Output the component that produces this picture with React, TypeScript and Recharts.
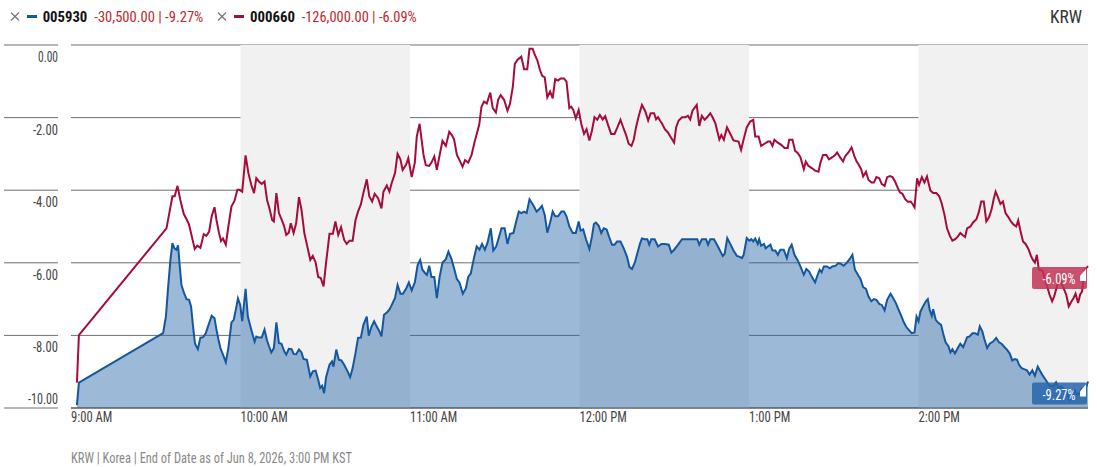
import React from "react";
import {
  ComposedChart,
  Area,
  Line,
  XAxis,
  YAxis,
  CartesianGrid,
  ReferenceArea,
} from "recharts";

// minutes after 9:00 AM KST, % change
const redTimes = [
  2.1, 2.8, 33.8, 35.9, 36.7, 37.7, 38.7, 39.9, 40.9, 41.8, 42.9, 43.8, 44.7, 45.8, 47.0, 47.9, 48.9, 49.8,
  50.8, 51.5, 52.4, 53.1, 53.8, 54.8, 55.7, 56.8, 57.9, 58.9, 59.7, 60.6, 61.8, 62.8, 63.8, 64.8, 65.6, 66.5,
  67.5, 68.5, 69.4, 70.3, 71.2, 71.8, 72.7, 73.6, 74.5, 75.4, 76.2, 77.1, 77.8, 78.8, 79.7, 80.7, 81.6, 82.6,
  83.5, 84.7, 85.6, 86.6, 87.5, 88.4, 89.4, 90.3, 91.5, 92.7, 93.6, 94.6, 95.6, 96.7, 97.6, 98.6, 99.7, 100.7,
  101.6, 102.6, 103.5, 104.7, 105.6, 106.6, 107.5, 108.7, 109.9, 110.6, 111.8, 112.7, 113.5, 114.7, 115.6,
  116.6, 117.4, 118.6, 119.4, 120.6, 121.7, 122.4, 123.4, 124.1, 124.8, 125.6, 126.8, 127.6, 128.6, 129.5,
  130.5, 131.5, 132.7, 133.9, 134.8, 135.6, 136.6, 137.4, 138.6, 139.5, 140.6, 141.8, 142.9, 144.5, 145.3,
  146.2, 147.2, 148.4, 149.3, 150.4, 151.2, 152.1, 153.3, 154.5, 155.4, 156.4, 157.1, 158.0, 159.4, 160.4,
  161.5, 162.3, 163.4, 164.1, 165.1, 166.0, 166.8, 167.7, 168.6, 169.6, 170.5, 171.4, 172.4, 173.3, 174.5,
  175.4, 176.4, 177.1, 177.8, 178.7, 179.7, 180.6, 181.6, 182.5, 183.5, 184.4, 185.3, 186.3, 187.2, 188.2,
  189.1, 190.1, 191.2, 192.4, 193.3, 194.5, 195.7, 196.5, 197.4, 198.4, 199.2, 200.0, 201.0, 202.1, 203.3,
  204.3, 205.2, 206.4, 207.1, 207.8, 208.5, 209.2, 210.2, 211.3, 212.3, 213.5, 214.2, 215.1, 216.3, 217.5,
  218.4, 219.2, 220.0, 221.5, 222.4, 223.3, 224.3, 225.2, 226.3, 227.1, 228.1, 229.5, 230.2, 231.1, 232.2,
  233.4, 234.5, 236.3, 237.2, 238.1, 239.2, 240.4, 241.5, 242.2, 243.4, 244.3, 245.5, 246.7, 247.5, 248.3,
  249.0, 250.2, 251.4, 252.6, 253.7, 254.2, 255.4, 256.3, 257.3, 258.2, 259.4, 260.1, 261.0, 262.2, 263.4,
  264.6, 265.3, 266.2, 267.4, 268.3, 269.5, 270.5, 271.2, 272.2, 273.3, 274.0, 275.4, 276.3, 277.3, 278.1,
  278.7, 279.7, 280.4, 281.4, 282.3, 283.4, 284.2, 285.1, 286.1, 287.0, 288.0, 288.9, 289.9, 290.8, 291.7,
  292.7, 293.4, 294.3, 295.3, 296.2, 297.2, 297.9, 298.6, 299.5, 300.2, 301.2, 302.1, 303.0, 304.2, 305.2,
  306.3, 307.3, 308.2, 309.2, 310.1, 311.1, 312.0, 313.0, 313.9, 314.8, 315.5, 316.5, 317.2, 318.4, 319.3,
  320.5, 321.4, 322.2, 323.1, 324.0, 325.0, 325.9, 326.6, 327.3, 328.0, 329.0, 329.9, 330.8, 331.8, 332.7,
  333.7, 334.6, 335.3, 336.0, 337.0, 337.9, 338.9, 339.8, 340.5, 341.2, 341.9, 342.6, 343.3, 344.0, 345.2,
  346.4, 347.3, 348.0, 349.0, 349.7, 350.4, 351.1, 352.3, 353.2, 354.2, 354.9, 355.6, 356.5, 357.2, 357.9,
  358.9, 360,
];
const redValues = [
  -9.3, -7.99, -5.05, -4.17, -4.17, -3.88, -4.27, -4.65, -4.8, -4.95, -5.32, -5.62, -5.53, -5.59, -5.21, -5.26,
  -5.14, -4.72, -4.47, -4.82, -5.18, -5.4, -5.33, -5.5, -5.0, -4.45, -4.29, -3.99, -3.99, -4.04, -3.04, -3.53,
  -3.85, -4.08, -3.67, -3.76, -3.83, -3.76, -4.27, -4.52, -4.82, -4.86, -4.08, -4.63, -4.8, -4.98, -5.23, -5.17,
  -4.91, -5.18, -4.91, -4.19, -4.54, -5.18, -5.5, -5.92, -5.81, -5.99, -6.39, -6.42, -6.65, -5.99, -5.2, -5.2,
  -4.86, -5.23, -5.02, -5.37, -5.48, -5.39, -5.39, -4.83, -4.59, -4.39, -4.08, -3.7, -4.17, -4.31, -4.1, -4.22,
  -4.5, -4.04, -3.87, -4.04, -3.81, -3.53, -3.0, -3.15, -3.44, -3.3, -3.12, -3.64, -3.24, -2.52, -2.17, -2.61,
  -3.03, -3.31, -3.33, -3.24, -3.07, -3.44, -3.03, -2.64, -2.78, -2.39, -2.48, -2.6, -3.03, -3.15, -3.35, -3.17,
  -3.24, -3.03, -2.66, -2.2, -1.7, -1.56, -1.61, -1.31, -1.74, -1.86, -1.51, -1.38, -1.51, -1.81, -1.62, -1.15,
  -0.52, -0.41, -0.32, -0.67, -0.67, -0.1, -0.1, -0.25, -0.43, -0.69, -0.85, -0.89, -1.44, -1.28, -1.47, -0.94,
  -0.98, -0.92, -0.92, -1.01, -1.74, -1.7, -1.79, -2.02, -1.79, -2.16, -2.45, -2.32, -2.63, -2.36, -1.99, -2.06,
  -1.93, -2.05, -1.96, -2.2, -2.45, -2.45, -2.29, -2.06, -2.32, -2.48, -2.72, -2.78, -2.61, -2.27, -1.95, -1.65,
  -1.83, -2.08, -1.88, -1.88, -2.05, -1.99, -2.08, -2.16, -2.32, -2.41, -2.54, -2.69, -2.27, -2.08, -1.99, -1.99,
  -1.95, -2.05, -1.81, -1.65, -2.23, -1.95, -2.06, -1.99, -1.88, -1.99, -2.16, -2.6, -2.48, -2.61, -2.27, -2.45,
  -2.63, -2.66, -2.89, -2.6, -2.27, -2.11, -2.06, -2.52, -2.52, -2.78, -2.72, -2.66, -2.66, -2.78, -2.61, -2.69,
  -2.75, -2.84, -2.84, -2.61, -2.61, -2.91, -2.98, -3.09, -3.42, -3.21, -3.33, -3.39, -3.46, -3.49, -3.24, -3.03,
  -3.03, -3.15, -3.09, -3.03, -2.96, -3.09, -3.21, -3.07, -2.94, -2.82, -3.06, -3.21, -3.28, -3.42, -3.62, -3.49,
  -3.72, -3.79, -3.79, -3.64, -3.67, -3.83, -3.88, -3.64, -3.61, -3.64, -3.76, -3.94, -4.06, -4.1, -4.25, -4.32,
  -4.31, -4.38, -4.47, -3.67, -3.85, -3.64, -3.79, -3.62, -4.01, -4.08, -4.08, -4.16, -4.36, -4.68, -5.05, -5.26,
  -5.39, -5.35, -5.28, -5.18, -5.23, -5.29, -5.05, -5.0, -4.89, -4.8, -4.59, -4.31, -4.31, -4.86, -4.74, -4.52,
  -4.25, -4.04, -4.17, -4.38, -4.31, -4.63, -4.74, -4.86, -4.95, -5.0, -4.83, -5.09, -5.41, -5.48, -5.62, -5.81,
  -5.92, -5.99, -5.78, -6.19, -6.19, -6.24, -6.56, -6.88, -7.06, -6.93, -6.65, -6.47, -6.51, -6.65, -6.88, -7.2,
  -7.06, -6.97, -6.85, -7.11, -6.88, -6.79, -6.19, -6.09,
];

const blueTimes = [
  2.1, 2.8, 32.6, 33.6, 34.4, 35.2, 35.9, 36.6, 37.3, 37.9, 38.5, 39.1, 40.0, 40.9, 41.8, 42.5, 43.2, 43.9, 44.9,
  45.8, 46.7, 47.7, 48.6, 49.8, 50.8, 51.5, 52.2, 52.9, 53.8, 54.8, 55.7, 56.8, 57.6, 58.3, 59.1, 59.9, 60.6,
  61.8, 62.6, 63.8, 65.0, 65.6, 66.5, 67.5, 68.5, 69.4, 70.1, 70.9, 71.8, 72.7, 73.6, 74.5, 75.5, 76.2, 77.1,
  78.1, 78.8, 79.7, 80.7, 81.6, 82.3, 83.5, 84.7, 85.6, 86.6, 87.5, 88.2, 88.9, 89.6, 90.3, 91.5, 92.4, 92.9,
  93.9, 94.8, 95.7, 96.7, 97.9, 98.8, 99.7, 100.7, 101.6, 102.6, 103.5, 104.7, 105.4, 106.3, 107.3, 108.2,
  109.2, 109.9, 110.8, 111.8, 112.7, 113.3, 114.7, 115.6, 116.6, 117.5, 118.7, 119.6, 120.6, 121.7, 122.7,
  123.6, 124.4, 125.3, 126.0, 126.8, 127.6, 128.6, 129.5, 130.5, 131.5, 132.7, 133.6, 134.7, 135.6, 136.6,
  137.5, 138.7, 139.8, 140.6, 141.5, 142.5, 143.6, 144.6, 145.5, 146.5, 147.4, 148.6, 149.5, 150.5, 151.5,
  152.4, 153.5, 154.5, 155.4, 156.6, 157.5, 158.5, 159.4, 160.4, 161.3, 162.3, 163.2, 163.9, 164.8, 165.8,
  166.7, 167.7, 168.6, 169.6, 170.5, 171.4, 172.4, 173.6, 174.5, 175.4, 176.4, 177.6, 178.7, 179.7, 180.4,
  181.3, 182.3, 183.5, 184.4, 185.1, 185.8, 186.8, 187.7, 188.6, 189.6, 190.5, 191.5, 192.4, 193.3, 194.5,
  195.7, 196.8, 197.7, 198.6, 199.6, 200.5, 201.4, 202.1, 203.1, 204.0, 204.7, 205.4, 206.6, 207.8, 209.0,
  210.2, 211.6, 212.5, 213.5, 214.9, 216.3, 221.7, 222.4, 223.3, 224.8, 225.5, 226.3, 227.6, 229.0, 230.7,
  231.4, 232.3, 233.5, 234.5, 235.7, 236.5, 237.5, 238.1, 239.2, 240.1, 240.8, 241.5, 242.2, 243.1, 243.6,
  244.3, 245.3, 245.9, 246.7, 247.6, 248.3, 249.3, 250.2, 251.1, 252.3, 253.4, 254.2, 255.1, 256.1, 257.3,
  258.2, 259.4, 260.3, 261.3, 262.2, 263.4, 264.3, 265.0, 265.7, 266.5, 267.6, 268.6, 269.5, 270.7, 271.6,
  272.6, 273.5, 274.5, 275.6, 276.6, 277.5, 278.7, 279.5, 280.4, 281.4, 282.3, 283.3, 284.2, 285.1, 286.1,
  287.0, 288.0, 288.9, 290.1, 291.0, 292.0, 292.9, 293.9, 294.8, 295.7, 296.7, 297.6, 298.6, 299.3, 300.0,
  300.7, 301.6, 302.6, 303.3, 304.0, 304.7, 305.2, 306.1, 307.1, 308.0, 308.7, 309.6, 310.6, 311.3, 312.0,
  312.9, 313.9, 314.8, 315.8, 316.5, 317.2, 318.1, 319.1, 320.0, 321.0, 321.7, 322.6, 323.3, 324.3, 325.2,
  326.4, 327.5, 328.5, 329.4, 330.4, 331.3, 332.3, 333.2, 334.1, 334.9, 335.6, 336.5, 337.4, 338.4, 339.3,
  340.3, 341.2, 342.2, 343.1, 344.0, 345.0, 345.9, 346.9, 347.8, 348.7, 349.7, 350.6, 351.6, 352.5, 353.5,
  354.4, 355.3, 356.3, 357.0, 357.7, 358.6, 360,
];
const blueValues = [
  -9.92, -9.3, -7.94, -7.48, -6.65, -5.92, -5.46, -5.6, -5.64, -5.52, -6.1, -6.61, -6.83, -7.0, -7.02, -7.2,
  -7.75, -8.23, -8.38, -8.06, -8.05, -7.94, -7.73, -7.46, -7.53, -7.84, -8.12, -8.35, -8.53, -8.74, -8.35, -7.64,
  -7.57, -7.31, -6.98, -7.16, -7.61, -6.72, -7.48, -7.84, -8.17, -8.03, -8.06, -8.06, -7.84, -8.14, -8.3, -8.47,
  -8.35, -7.64, -8.21, -8.23, -8.44, -8.53, -8.37, -8.38, -8.51, -8.52, -8.39, -8.47, -8.65, -8.67, -9.13, -8.99,
  -8.97, -9.22, -9.45, -9.39, -9.59, -9.15, -8.81, -8.72, -8.86, -8.39, -8.67, -8.69, -8.81, -8.99, -9.15, -8.9,
  -8.49, -8.07, -8.06, -7.71, -7.48, -8.01, -7.77, -7.61, -7.75, -7.89, -8.03, -7.43, -7.37, -7.29, -7.2, -6.97,
  -6.61, -6.85, -6.85, -6.7, -6.54, -6.76, -6.54, -6.06, -5.92, -6.19, -6.28, -6.33, -6.08, -6.39, -6.39, -6.97,
  -6.38, -5.99, -5.9, -5.69, -5.9, -6.15, -6.45, -6.54, -6.85, -6.7, -6.39, -6.3, -5.92, -5.55, -5.64, -5.48,
  -5.64, -5.46, -5.05, -5.66, -5.55, -5.29, -5.05, -5.05, -5.48, -5.2, -5.18, -4.89, -4.59, -4.63, -4.59, -4.63,
  -4.25, -4.36, -4.45, -4.59, -4.52, -4.43, -4.68, -5.17, -4.89, -4.59, -4.72, -4.72, -4.59, -4.59, -4.72, -5.0,
  -5.18, -5.18, -4.86, -5.11, -5.08, -5.35, -5.62, -5.28, -4.93, -4.89, -4.98, -5.18, -5.05, -5.08, -5.29, -5.5,
  -5.5, -5.41, -5.41, -5.61, -5.83, -6.12, -6.17, -5.99, -5.73, -5.48, -5.33, -5.35, -5.35, -5.5, -5.35, -5.35,
  -5.55, -5.48, -5.48, -5.5, -5.72, -5.64, -5.5, -5.35, -5.35, -5.5, -5.35, -5.35, -5.5, -5.35, -5.35, -5.55,
  -5.81, -5.75, -5.32, -5.5, -5.66, -5.81, -5.83, -5.87, -5.78, -5.32, -5.39, -5.35, -5.41, -5.33, -5.48, -5.35,
  -5.53, -5.48, -5.6, -5.55, -5.5, -5.66, -5.66, -5.78, -5.64, -5.64, -5.87, -5.62, -5.5, -5.78, -5.94, -6.1,
  -6.33, -6.17, -6.24, -6.38, -6.54, -6.33, -6.19, -6.26, -6.1, -6.1, -6.15, -6.1, -6.08, -6.01, -6.03, -6.08,
  -6.01, -5.9, -5.78, -6.19, -6.35, -6.45, -6.67, -6.72, -6.93, -7.06, -7.0, -7.02, -7.13, -7.16, -7.31, -7.02,
  -6.85, -6.97, -7.11, -7.28, -7.46, -7.64, -7.77, -7.86, -7.94, -7.92, -7.48, -7.61, -7.34, -7.2, -7.06, -7.0,
  -7.31, -7.46, -7.28, -7.57, -7.66, -7.71, -7.94, -8.19, -8.3, -8.47, -8.38, -8.5, -8.35, -8.23, -8.32, -8.19,
  -8.05, -8.03, -7.94, -7.94, -7.98, -7.75, -7.89, -8.1, -8.35, -8.23, -8.17, -8.07, -8.19, -8.23, -8.32, -8.39,
  -8.5, -8.69, -8.65, -8.67, -8.81, -8.9, -8.93, -8.96, -9.08, -8.96, -9.11, -8.86, -8.99, -9.11, -9.22, -9.33,
  -9.4, -9.39, -9.29, -9.45, -9.4, -9.5, -9.54, -9.77, -9.66, -9.51, -9.63, -9.59, -9.48, -9.61, -9.27,
];

const yTicks = [0, -2, -4, -6, -8, -10];
const hourTicks = [0, 60, 120, 180, 240, 300];
const hourLabels = ["9:00 AM", "10:00 AM", "11:00 AM", "12:00 PM", "1:00 PM", "2:00 PM"];
const shadedHours = [
  [60, 120],
  [180, 240],
  [300, 360],
];

const FONT = "'Liberation Sans Narrow', 'Roboto Condensed', Roboto, sans-serif";
const RED = "#a50b3b";
const BLUE = "#14579f";

const redData = redTimes.map((t, i) => ({ t, v: redValues[i] }));
const blueData = blueTimes.map((t, i) => ({ t, v: blueValues[i] }));

function Txt({ x, y, w, size = 14, fill = "#444", weight, anchor = "start", children }: any) {
  return (
    <text
      x={x}
      y={y}
      fontSize={size}
      fontFamily={FONT}
      fill={fill}
      fontWeight={weight}
      textAnchor={anchor}
      textLength={w}
      lengthAdjust="spacingAndGlyphs"
    >
      {children}
    </text>
  );
}

function YTick({ y, payload }: any) {
  const label = Number(payload.value).toFixed(2);
  const bottom = payload.value === -10;
  return (
    <g>
      <line x1={4} x2={58} y1={y} y2={y} stroke="#6f6f6f" strokeWidth={1} />
      <Txt x={58} y={bottom ? y - 4 : y + 17} w={label.length * 5} anchor="end">
        {label}
      </Txt>
    </g>
  );
}

function XTick({ x, payload }: any) {
  const label = hourLabels[hourTicks.indexOf(payload.value)] ?? "";
  return (
    <Txt x={x} y={422} w={label.length * 5.9}>
      {label}
    </Txt>
  );
}

function endTag(count: number, text: string, fill: string) {
  return (props: any) => {
    const { cx, cy, index } = props;
    if (index !== count - 1) return <g key={`d${index}`} />;
    return (
      <g key="tag">
        <rect x={cx - 56} y={cy + 1} width={55} height={22} rx={2} fill={fill} fillOpacity={0.85} />
        <Txt x={cx - 29} y={cy + 18} w={33} fill="#fff" anchor="middle">
          {text}
        </Txt>
        <polygon
          points={`${cx - 2},${cy + 3} ${cx - 2},${cy + 15} ${cx - 8},${cy + 15} ${cx - 8},${cy + 10}`}
          fill="#fff"
        />
      </g>
    );
  };
}

export default function App() {
  return (
    <div style={{ position: "absolute", left: 0, top: 0, width: 1097, height: 467, background: "#fff" }}>
      <ComposedChart width={1097} height={467} margin={{ top: 45, right: 9, bottom: 0, left: 0 }}>
        {shadedHours.map(([a, b]) => (
          <ReferenceArea key={a} x1={a} x2={b} y1={-10} y2={0} fill="#f1f1f1" fillOpacity={1} stroke="none" />
        ))}
        <CartesianGrid vertical={false} stroke="#6f6f6f" strokeOpacity={1} />
        <XAxis
          dataKey="t"
          type="number"
          domain={[0, 360]}
          ticks={hourTicks}
          height={59}
          tick={<XTick />}
          tickLine={false}
          axisLine={{ stroke: "#555" }}
        />
        <YAxis
          type="number"
          domain={[-10, 0]}
          ticks={yTicks}
          width={71}
          tick={<YTick />}
          tickLine={false}
          axisLine={false}
        />
        <Area
          data={blueData}
          dataKey="v"
          type="linear"
          baseValue={-10}
          stroke={BLUE}
          strokeWidth={2}
          fill="#2363a8"
          fillOpacity={0.45}
          isAnimationActive={false}
          activeDot={false}
          dot={endTag(blueData.length, "-9.27%", "#2666ab")}
        />
        <Line
          data={redData}
          dataKey="v"
          type="linear"
          stroke={RED}
          strokeWidth={2}
          isAnimationActive={false}
          activeDot={false}
          dot={endTag(redData.length, "-6.09%", "#c23455")}
        />
      </ComposedChart>
      <svg
        width={1097}
        height={467}
        style={{ position: "absolute", left: 0, top: 0, pointerEvents: "none" }}
      >
        <g stroke="#777" strokeWidth={1.2}>
          <line x1={11} y1={12.5} x2={19} y2={20.5} />
          <line x1={19} y1={12.5} x2={11} y2={20.5} />
          <line x1={218} y1={12.5} x2={226} y2={20.5} />
          <line x1={226} y1={12.5} x2={218} y2={20.5} />
        </g>
        <rect x={27} y={15} width={10} height={3} fill={BLUE} />
        <Txt x={42.7} y={21.7} w={44.6} fill="#111" weight="bold">005930</Txt>
        <Txt x={94.3} y={21.7} w={109} fill="#c0282d">-30,500.00 | -9.27%</Txt>
        <rect x={234} y={15} width={10} height={3} fill={RED} />
        <Txt x={250} y={21.7} w={45} fill="#111" weight="bold">000660</Txt>
        <Txt x={301.7} y={21.7} w={115} fill="#c0282d">-126,000.00 | -6.09%</Txt>
        <Txt x={1050} y={22.7} w={32} size={18} fill="#333">KRW</Txt>
        <Txt x={71} y={463} w={281} fill="#888">KRW | Korea | End of Date as of Jun 8, 2026, 3:00 PM KST</Txt>
      </svg>
    </div>
  );
}
